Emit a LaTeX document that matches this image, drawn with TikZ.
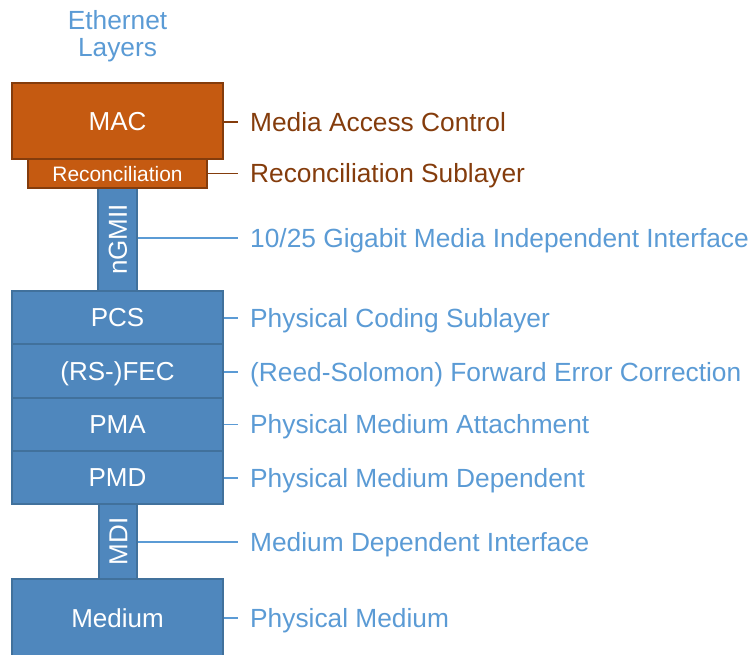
\documentclass[tikz,border=0pt]{standalone}
\usepackage{fontspec}
\setmainfont{Liberation Sans}
\definecolor{macfill}{HTML}{C55A11}
\definecolor{macline}{HTML}{843C0C}
\definecolor{phyfill}{HTML}{4F87BD}
\definecolor{phyline}{HTML}{41719C}
\definecolor{phytext}{HTML}{5B9BD5}
\begin{document}
\begin{tikzpicture}[x=1pt,y=-1pt,
  layerbox/.style={draw, line width=1.5pt, rectangle, inner sep=0pt, text=white,
    font=\fontsize{26}{30}\selectfont, text height=18.6pt, text depth=0pt},
  macbox/.style={layerbox, fill=macfill, draw=macline},
  phybox/.style={layerbox, fill=phyfill, draw=phyline},
  bartext/.style={rotate=90, inner sep=0pt, text=white,
    font=\fontsize{26}{30}\selectfont, text height=18.6pt, text depth=0pt},
  lbl/.style={anchor=west, inner sep=0pt, font=\fontsize{26.3}{30}\selectfont,
    text height=18.8pt, text depth=0pt},
  maclbl/.style={lbl, text=macline},
  phylbl/.style={lbl, text=phytext},
  titletext/.style={anchor=base, inner sep=0pt, text=phytext, font=\fontsize{26.3}{30}\selectfont},
  maclink/.style={draw=macline, line width=1.3pt, shorten >=12pt},
  phylink/.style={draw=phytext, line width=1.3pt, shorten >=12pt}]

\useasboundingbox (0,0) rectangle (753,654);
\clip (0,0) rectangle (753,654);

% heading
\node[titletext] (title1) at (117.5,29.3) {Ethernet};
\node[titletext] (title2) at (117.5,56.7) {Layers};

% interface bars
\node[phybox, minimum width=39pt, minimum height=103pt] (ngmii) at (117.5,239.5) {};
\node[bartext] (ngmiitext) at (ngmii.center) {nGMII};
\node[phybox, minimum width=38pt, minimum height=75pt] (mdi) at (118,541.5) {};
\node[bartext] (mditext) at (mdi.center) {MDI};

% MAC layers
\node[macbox, minimum width=211pt, minimum height=76pt] (mac) at (117.5,121) {MAC};
\node[macbox, minimum width=179pt, minimum height=29pt,
  font=\fontsize{20.9}{24}\selectfont, text height=15pt] (rec) at (117.5,173.5) {Reconciliation};

% PHY layers
\node[phybox, minimum width=211pt, minimum height=53pt] (pcs) at (117.5,317.5) {PCS};
\node[phybox, minimum width=211pt, minimum height=54pt] (fec) at (117.5,371) {(RS-)FEC};
\node[phybox, minimum width=211pt, minimum height=53pt] (pma) at (117.5,424.5) {PMA};
\node[phybox, minimum width=211pt, minimum height=53pt] (pmd) at (117.5,477.5) {PMD};
\node[phybox, minimum width=211pt, minimum height=79pt] (medium) at (117.5,618.5) {Medium};

% descriptions
\node[maclbl] (lmac) at (250,122) {Media Access Control};
\node[maclbl] (lrec) at (250,173.5) {Reconciliation Sublayer};
\node[phylbl] (lngmii) at (250,238) {10/25 Gigabit Media Independent Interface};
\node[phylbl] (lpcs) at (250,318) {Physical Coding Sublayer};
\node[phylbl] (lfec) at (250,372) {(Reed-Solomon) Forward Error Correction};
\node[phylbl] (lpma) at (250,424.5) {Physical Medium Attachment};
\node[phylbl] (lpmd) at (250,478) {Physical Medium Dependent};
\node[phylbl] (lmdi) at (250,542) {Medium Dependent Interface};
\node[phylbl] (lmedium) at (250,618) {Physical Medium};

% leader lines
\draw[maclink] (mac.east |- lmac.west) -- (lmac.west);
\draw[maclink] (rec.east |- lrec.west) -- (lrec.west);
\draw[phylink] (ngmii.east |- lngmii.west) -- (lngmii.west);
\draw[phylink] (pcs.east |- lpcs.west) -- (lpcs.west);
\draw[phylink] (fec.east |- lfec.west) -- (lfec.west);
\draw[phylink] (pma.east |- lpma.west) -- (lpma.west);
\draw[phylink] (pmd.east |- lpmd.west) -- (lpmd.west);
\draw[phylink] (mdi.east |- lmdi.west) -- (lmdi.west);
\draw[phylink] (medium.east |- lmedium.west) -- (lmedium.west);
\end{tikzpicture}
\end{document}
